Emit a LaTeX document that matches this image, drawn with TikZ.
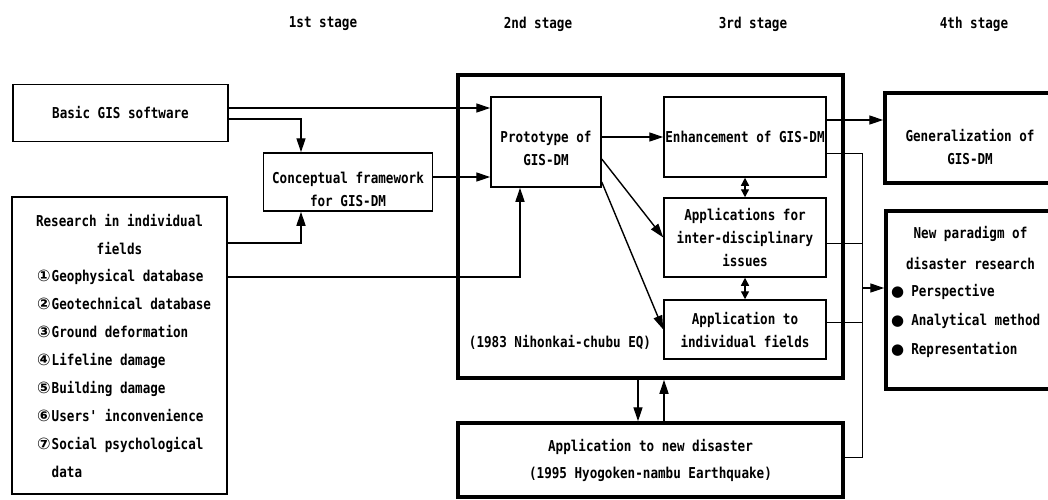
\documentclass[tikz,border=0pt]{standalone}
\usepackage{fontspec}
\newfontfamily\gothic[FakeStretch=0.84]{DejaVu Sans Mono}
\newfontfamily\dingfont{DejaVu Sans}
\usetikzlibrary{arrows.meta,calc}
\newcommand\cnum[1]{{\dingfont\fontsize{16}{16}\selectfont #1}\hspace{1pt}}
\newcommand\bul{{\dingfont\fontsize{15}{15}\selectfont ●}\hspace{7pt}}
\newcommand\dropline[1]{\rule{0pt}{#1}}
\tikzset{
  pbox/.style={draw, line width=1.5pt, align=center, inner sep=1pt, font=\gothic\bfseries\fontsize{15}{23}\selectfont},
  fbox/.style={draw, line width=3.5pt, align=center, inner sep=1pt, font=\gothic\bfseries\fontsize{15}{23}\selectfont},
  txt/.style={align=center, inner sep=0pt, font=\gothic\bfseries\fontsize{15}{23}\selectfont},
  flow/.style={-{Triangle[length=14pt,width=9pt]}, line width=1.4pt},
  dflow/.style={{Triangle[length=8pt,width=8pt]}-{Triangle[length=8pt,width=8pt]}, line width=1.4pt},
  bus/.style={line width=1pt},
}
\begin{document}
\begin{tikzpicture}[x=1pt,y=-1pt]
  \clip (0,0) rectangle (1048,499);
  \fill[white] (0,0) rectangle (1048,499);
  % stage headings
  \node[txt] (st1) at (323,24) {1st stage};
  \node[txt] (st2) at (538,24) {2nd stage};
  \node[txt] (st3) at (753,24) {3rd stage};
  \node[txt] (st4) at (974,24) {4th stage};
  % 1st stage
  \node[pbox, minimum width=215pt, minimum height=57pt] (basic) at (120.5,113) {Basic GIS software};
  \node[pbox, minimum width=215pt, minimum height=297pt] (research) at (119.5,345.5) {};
  \node[txt, font=\gothic\bfseries\fontsize{15}{28}\selectfont] (restitle) at (119.5,234) {Research in individual\\fields};
  \node[txt, align=left, anchor=west, font=\gothic\bfseries\fontsize{15}{28}\selectfont] (reslist) at (37,374)
    {\cnum{①}Geophysical database\\\cnum{②}Geotechnical database\\\cnum{③}Ground deformation\\
     \cnum{④}Lifeline damage\\\cnum{⑤}Building damage\\\cnum{⑥}Users' inconvenience\\
     \cnum{⑦}Social psychological\\\phantom{\cnum{⑦}}data};
  \node[pbox, minimum width=169pt, minimum height=58pt] (concept) at (348,182) {\dropline{27pt}Conceptual framework\\for GIS-DM};
  % 2nd stage
  \node[fbox, minimum width=385pt, minimum height=303pt] (frame) at (650.5,226.5) {};
  \node[pbox, minimum width=110pt, minimum height=90pt] (proto) at (546,142) {\dropline{24pt}Prototype of\\GIS-DM};
  \node[txt] (eq83) at (560,342) {(1983 Nihonkai-chubu EQ)};
  % 3rd stage
  \node[pbox, minimum width=162pt, minimum height=80pt] (enh) at (745,137) {Enhancement of GIS-DM};
  \node[pbox, minimum width=162pt, minimum height=79pt] (apps) at (745,237.5) {Applications for\\inter-disciplinary\\issues};
  \node[pbox, minimum width=162pt, minimum height=59pt] (indiv) at (745,329.5) {Application to\\individual fields};
  \node[fbox, minimum width=385pt, minimum height=74pt, font=\gothic\bfseries\fontsize{15}{27}\selectfont] (newdis) at (650.5,460)
    {\dropline{14pt}Application to new disaster\\(1995 Hyogoken-nambu Earthquake)};
  % 4th stage
  \node[fbox, minimum width=170pt, minimum height=90pt] (gen) at (970,138) {\dropline{31pt}Generalization of\\GIS-DM};
  \node[fbox, minimum width=169pt, minimum height=178pt] (para) at (970.5,300) {};
  \node[txt, font=\gothic\bfseries\fontsize{15}{30}\selectfont] (paratitle) at (970.5,248) {New paradigm of\\disaster research};
  \node[txt, align=left, anchor=west, font=\gothic\bfseries\fontsize{15}{29}\selectfont] (paralist) at (891,321)
    {\bul Perspective\\\bul Analytical method\\\bul Representation};
  % connectors, left
  \draw[flow] ([yshift=5pt]basic.east) -- ([yshift=5pt]basic.east -| proto.west);
  \draw[flow] ([yshift=-6pt]basic.east) -| ([xshift=-47pt]concept.north);
  \draw[flow] (research.east |- 0,243) -| ([xshift=-47pt]concept.south);
  \draw[flow] ([yshift=5pt]concept.east) -- ([yshift=5pt]concept.east -| proto.west);
  \draw[flow] (research.east |- 0,277) -| ([xshift=-26pt]proto.south);
  % connectors, inside the frame
  \draw[flow] (proto.east |- enh.west) -- (enh.west);
  \draw[flow] ([yshift=-17pt]proto.east) -- (apps.west);
  \draw[flow] ([yshift=-40pt]proto.east) -- (indiv.west);
  \draw[dflow] (enh.south) -- (apps.north);
  \draw[dflow] (apps.south) -- (indiv.north);
  \draw[flow] ([xshift=-12.5pt]frame.south) -- ([xshift=-12.5pt]frame.south |- newdis.north);
  \draw[flow] ([xshift=13.5pt]newdis.north) -- ([xshift=13.5pt]newdis.north |- frame.south);
  % connectors, right
  \coordinate (bustop) at (862,153);
  \coordinate (busbot) at (862,457);
  \draw[flow] (enh.east |- 0,120) -- (gen.west |- 0,120);
  \draw[bus] (enh.east |- bustop) -- (bustop) -- (busbot) -- (newdis.east |- busbot);
  \draw[bus] (apps.east |- 0,243) -- (bustop |- 0,243);
  \draw[bus] (indiv.east |- 0,322) -- (bustop |- 0,322);
  \draw[flow] (bustop |- 0,288) -- (para.west |- 0,288);
\end{tikzpicture}
\end{document}
